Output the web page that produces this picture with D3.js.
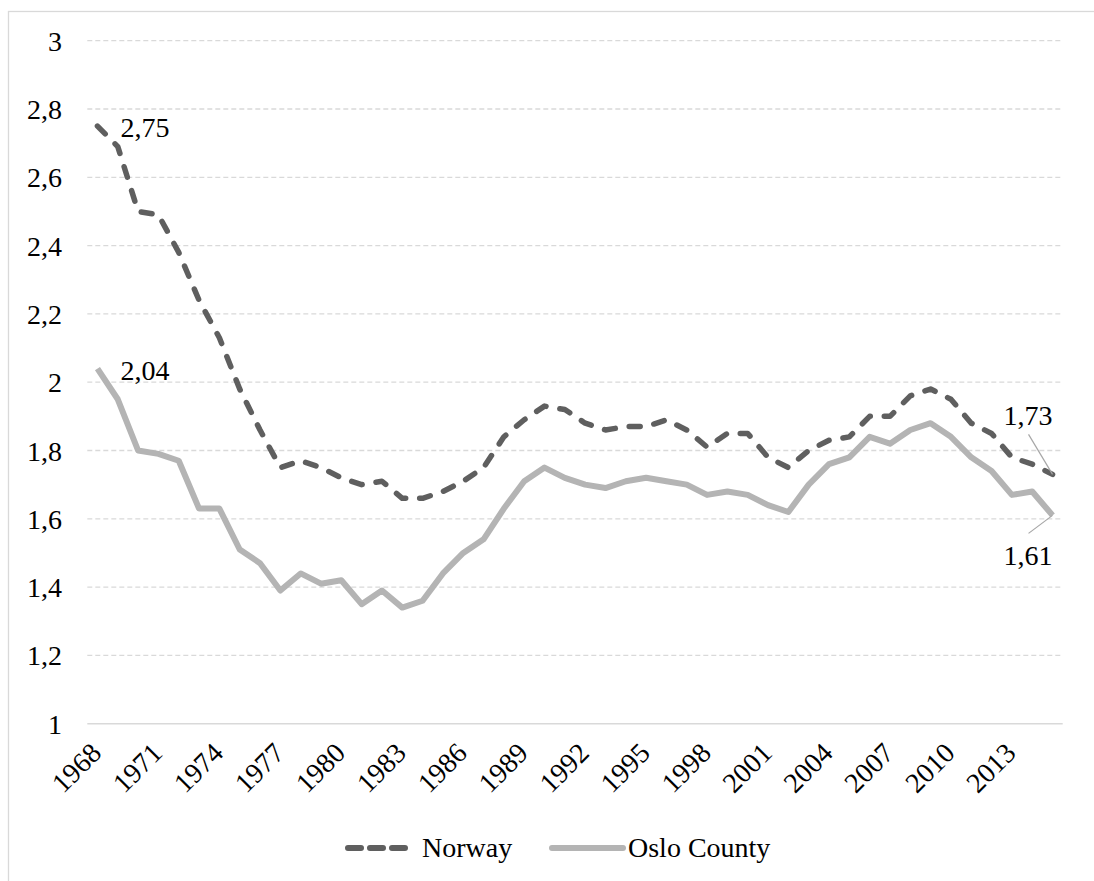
<!DOCTYPE html>
<html>
<head>
<meta charset="utf-8">
<script src="https://cdn.jsdelivr.net/npm/d3@7"></script>
<style>
	body { margin: 0; background: #fff; }
	svg { display: block; font-family: 'Liberation Serif', 'Times New Roman', serif; }
</style>
</head>
<body>
<svg id="main" width="1094" height="881"></svg>
<script>

// years on the category axis
const years = d3.range(1968, 2016);

// total fertility rate
const norway = [2.75, 2.69, 2.50, 2.49, 2.38, 2.24, 2.13, 1.98, 1.86, 1.75,
	1.77, 1.75, 1.72, 1.70, 1.71, 1.66, 1.66, 1.68, 1.71, 1.75,
	1.84, 1.89, 1.93, 1.92, 1.88, 1.86, 1.87, 1.87, 1.89, 1.86,
	1.81, 1.85, 1.85, 1.78, 1.75, 1.80, 1.83, 1.84, 1.90, 1.90,
	1.96, 1.98, 1.95, 1.88, 1.85, 1.78, 1.76, 1.73];

const oslo = [2.04, 1.95, 1.80, 1.79, 1.77, 1.63, 1.63, 1.51, 1.47, 1.39,
	1.44, 1.41, 1.42, 1.35, 1.39, 1.34, 1.36, 1.44, 1.50, 1.54,
	1.63, 1.71, 1.75, 1.72, 1.70, 1.69, 1.71, 1.72, 1.71, 1.70,
	1.67, 1.68, 1.67, 1.64, 1.62, 1.70, 1.76, 1.78, 1.84, 1.82,
	1.86, 1.88, 1.84, 1.78, 1.74, 1.67, 1.68, 1.61];

const yTicks = [1, 1.2, 1.4, 1.6, 1.8, 2, 2.2, 2.4, 2.6, 2.8, 3];
const xTickYears = d3.range(1968, 2014, 3);

const seriesNames = ['Norway', 'Oslo County'];

main();

function main() {

	let svg = d3.select('#main');

	let 
		left = 87.3,
		right = 1062.7,
		top = 40.7,
		bottom = 723.7;

	let nb = d3.formatLocale({decimal: ',', thousands: ' ', grouping: [3], currency: ['', '']});
	let fmt = nb.format('.2~f');

	let x = d3.scalePoint()
		.domain(years)
		.range([left, right])
		.padding(0.5);

	let y = d3.scaleLinear()
		.domain([1, 3])
		.range([bottom, top]);

	// chart border
	svg.append('rect')
		.attr('x', 8.5)
		.attr('y', 11.5)
		.attr('width', 1200)
		.attr('height', 1000)
		.attr('fill', 'none')
		.attr('stroke', '#d9d9d9')
		.attr('stroke-width', 1.3);

	// gridlines
	svg.append('g')
		.selectAll('line')
		.data(yTicks.filter(d => d > 1))
		.enter()
		.append('line')
		.attr('x1', left)
		.attr('x2', right)
		.attr('y1', d => y(d))
		.attr('y2', d => y(d))
		.attr('stroke', '#d9d9d9')
		.attr('stroke-width', 1.3)
		.attr('stroke-dasharray', '5,3');

	svg.append('line')
		.attr('x1', left)
		.attr('x2', right)
		.attr('y1', y(1))
		.attr('y2', y(1))
		.attr('stroke', '#d9d9d9')
		.attr('stroke-width', 1.5);

	// y axis labels
	let yAxis = svg.append('g')
		.attr('transform', 'translate(' + 62 + ',0)')
		.call(d3.axisLeft(y).tickValues(yTicks).tickFormat(fmt).tickSize(0).tickPadding(0));
	yAxis.select('.domain').remove();
	yAxis.selectAll('text')
		.attr('font-size', 28)
		.attr('font-family', 'Liberation Serif')
		.attr('fill', '#000')
		.attr('dy', '0.34em');

	// x axis labels
	let xAxis = svg.append('g')
		.attr('transform', 'translate(0,' + bottom + ')')
		.call(d3.axisBottom(x).tickValues(xTickYears).tickSize(0));
	xAxis.select('.domain').remove();
	xAxis.selectAll('text')
		.attr('font-size', 28)
		.attr('font-family', 'Liberation Serif')
		.attr('fill', '#000')
		.attr('y', 0)
		.attr('dy', 0)
		.attr('text-anchor', 'end')
		.attr('transform', 'translate(5,31) rotate(-45)');

	let line = d3.line()
		.x((d, i) => x(years[i]))
		.y(d => y(d));

	svg.append('path')
		.datum(oslo)
		.attr('d', line)
		.attr('fill', 'none')
		.attr('stroke', '#b4b4b4')
		.attr('stroke-width', 6)
		.attr('stroke-linejoin', 'round');

	svg.append('path')
		.datum(norway)
		.attr('d', line)
		.attr('fill', 'none')
		.attr('stroke', '#5f5f5f')
		.attr('stroke-width', 5.5)
		.attr('stroke-linecap', 'round')
		.attr('stroke-linejoin', 'round')
		.attr('stroke-dasharray', '11,14');

	// data labels
	let first = years[0], last = years[years.length - 1];
	let lab = svg.append('g')
		.attr('font-size', 28)
		.attr('fill', '#000');

	lab.append('text')
		.attr('x', x(first) + 23)
		.attr('y', y(norway[0]) + 10.5)
		.text(fmt(norway[0]));

	lab.append('text')
		.attr('x', x(first) + 23)
		.attr('y', y(oslo[0]) + 11.5)
		.text(fmt(oslo[0]));

	lab.append('text')
		.attr('x', x(last))
		.attr('y', y(norway[norway.length - 1]) - 49)
		.attr('text-anchor', 'end')
		.text(fmt(norway[norway.length - 1]));

	lab.append('text')
		.attr('x', x(last))
		.attr('y', y(oslo[oslo.length - 1]) + 50)
		.attr('text-anchor', 'end')
		.text(fmt(oslo[oslo.length - 1]));

	svg.append('line')
		.attr('x1', x(last) - 24)
		.attr('y1', y(norway[norway.length - 1]) - 40)
		.attr('x2', x(last))
		.attr('y2', y(norway[norway.length - 1]))
		.attr('stroke', '#a6a6a6')
		.attr('stroke-width', 1.2);

	svg.append('line')
		.attr('x1', x(last) - 24)
		.attr('y1', y(oslo[oslo.length - 1]) + 18)
		.attr('x2', x(last))
		.attr('y2', y(oslo[oslo.length - 1]))
		.attr('stroke', '#a6a6a6')
		.attr('stroke-width', 1.2);

	// legend
	let legend = svg.append('g').attr('font-size', 28).attr('fill', '#000');

	legend.append('line')
		.attr('x1', 348).attr('x2', 407)
		.attr('y1', 848).attr('y2', 848)
		.attr('stroke', '#5f5f5f')
		.attr('stroke-width', 6)
		.attr('stroke-linecap', 'round')
		.attr('stroke-dasharray', '13,9');

	legend.append('text')
		.attr('x', 422).attr('y', 857)
		.text(seriesNames[0]);

	legend.append('line')
		.attr('x1', 552).attr('x2', 623)
		.attr('y1', 848).attr('y2', 848)
		.attr('stroke', '#b4b4b4')
		.attr('stroke-width', 6)
		.attr('stroke-linecap', 'round');

	legend.append('text')
		.attr('x', 628).attr('y', 857)
		.text(seriesNames[1]);

}
</script>
</body>
</html>
